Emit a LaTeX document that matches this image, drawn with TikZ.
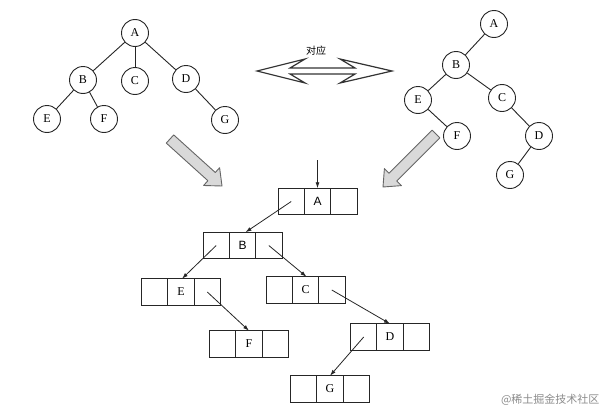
\documentclass[tikz,border=0pt]{standalone}
\usepackage{fontspec}
\setmainfont{Liberation Serif}
\newfontfamily\sansf{Liberation Sans}
\newfontfamily\cjk{Noto Sans CJK SC}
\usetikzlibrary{arrows.meta}
\begin{document}
\begin{tikzpicture}[x=1pt,y=-1pt,
  ink/.style={draw=black!85,line width=0.9pt},
  tnode/.style={circle,ink,minimum size=27pt,inner sep=0pt,font=\fontsize{12}{12}\selectfont},
  tedge/.style={black!85,line width=0.9pt},
  cell/.style={rectangle,ink,minimum width=26.3pt,minimum height=26.5pt,inner sep=0pt,outer sep=0pt,font=\fontsize{12}{12}\selectfont},
  ptr/.style={black!85,line width=0.8pt,-{Latex[length=6pt,width=4pt]}},
  bigarrow/.style={fill=black!15,draw=black!60,line width=0.9pt,line join=round},
  dblarrow/.style={fill=white,draw=black!80,line width=1.2pt,line join=miter}
]
\useasboundingbox (0,0) rectangle (615,415);
\fill[white] (0,0) rectangle (615,415);

% left tree
\node[tnode] (la) at (135,33) {A};
\node[tnode] (lb) at (83,80) {B};
\node[tnode] (lc) at (135,81) {C};
\node[tnode] (ld) at (186,79) {D};
\node[tnode] (le) at (47,119) {E};
\node[tnode] (lf) at (104,119) {F};
\node[tnode] (lg) at (225,120) {G};
\draw[tedge] (la) -- (lb);
\draw[tedge] (la) -- (lc);
\draw[tedge] (la) -- (ld);
\draw[tedge] (lb) -- (le);
\draw[tedge] (lb) -- (lf);
\draw[tedge] (ld) -- (lg);

% right tree
\node[tnode] (ra) at (494,24) {A};
\node[tnode] (rb) at (456,65) {B};
\node[tnode] (re) at (418,100) {E};
\node[tnode] (rc) at (502,98) {C};
\node[tnode] (rf) at (457,136) {F};
\node[tnode] (rd) at (539,136) {D};
\node[tnode] (rg) at (510,175) {G};
\draw[tedge] (ra) -- (rb);
\draw[tedge] (rb) -- (re);
\draw[tedge] (rb) -- (rc);
\draw[tedge] (re) -- (rf);
\draw[tedge] (rc) -- (rd);
\draw[tedge] (rd) -- (rg);

% double arrow
\draw[dblarrow] (257,71) -- (305,59) -- (290,68) -- (355,68) -- (340,59) -- (392,71)
  -- (340,83) -- (355,74) -- (290,74) -- (305,83) -- cycle;
\node[font=\cjk\fontsize{10}{10}\selectfont] (dui) at (316,51) {对应};

% big gray arrows
\draw[bigarrow] (173.7,134.9) -- (215.3,172.5) -- (219.6,167.7) -- (222,186)
  -- (203.6,185.5) -- (207.9,180.7) -- (166.3,143.1) -- cycle;
\draw[bigarrow] (439.9,137.9) -- (396.8,181.0) -- (401.4,185.6) -- (383,187)
  -- (384.4,168.6) -- (389.0,173.2) -- (432.1,130.1) -- cycle;

% binary linked list
\node[cell,font=\sansf\fontsize{12}{12}\selectfont] (A) at (317.5,201.5) {A};
\node[cell,anchor=east] (Al) at (A.west) {};
\node[cell,anchor=west] (Ar) at (A.east) {};

\node[cell,font=\sansf\fontsize{12}{12}\selectfont] (B) at (242.5,245.5) {B};
\node[cell,anchor=east] (Bl) at (B.west) {};
\node[cell,anchor=west] (Br) at (B.east) {};

\node[cell] (E) at (181,292) {E};
\node[cell,anchor=east] (El) at (E.west) {};
\node[cell,anchor=west] (Er) at (E.east) {};

\node[cell] (C) at (305.5,290) {C};
\node[cell,anchor=east] (Cl) at (C.west) {};
\node[cell,anchor=west] (Cr) at (C.east) {};

\node[cell] (F) at (249,344) {F};
\node[cell,anchor=east] (Fl) at (F.west) {};
\node[cell,anchor=west] (Fr) at (F.east) {};

\node[cell] (D) at (390,337) {D};
\node[cell,anchor=east] (Dl) at (D.west) {};
\node[cell,anchor=west] (Dr) at (D.east) {};

\node[cell] (G) at (330,389) {G};
\node[cell,anchor=east] (Gl) at (G.west) {};
\node[cell,anchor=west] (Gr) at (G.east) {};

\coordinate (root) at (317.5,160);
\draw[ptr] (root) -- (A.north);
\draw[ptr] (Al.center) -- ([xshift=3pt]B.north);
\draw[ptr] (Bl.center) -- ([xshift=1pt]E.north);
\draw[ptr] (Br.center) -- ([xshift=1pt]C.north);
\draw[ptr] (Er.center) -- (F.north);
\draw[ptr] (Cr.center) -- (D.north);
\draw[ptr] (Dl.center) -- (G.north);

% watermark
\node[font=\cjk\fontsize{11}{11}\selectfont,text=black!45,anchor=east] (wm) at (603,400) {@稀土掘金技术社区};
\end{tikzpicture}
\end{document}
